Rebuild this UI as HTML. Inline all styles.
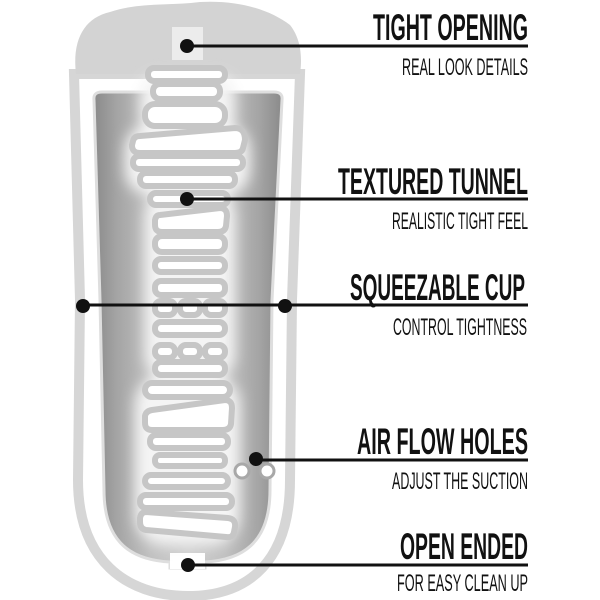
<!DOCTYPE html>
<html><head><style>html,body{margin:0;padding:0;background:#fff}svg{display:block}</style></head>
<body>
<svg width="600" height="600" viewBox="0 0 600 600" xmlns="http://www.w3.org/2000/svg">
<defs>
<linearGradient id="cav" x1="0" x2="1" y1="0" y2="0">
<stop offset="0" stop-color="#8a8a8a"/><stop offset="0.12" stop-color="#a4a4a4"/><stop offset="0.3" stop-color="#c0c0c0"/><stop offset="0.5" stop-color="#cfcfcf"/><stop offset="0.7" stop-color="#c0c0c0"/><stop offset="0.88" stop-color="#a4a4a4"/><stop offset="1" stop-color="#8a8a8a"/>
</linearGradient>
<filter id="bl" x="-50%" y="-20%" width="200%" height="140%"><feGaussianBlur stdDeviation="7"/></filter>
</defs>
<!-- outer shell -->
<path d="M74,74 L300,74 L292,300 L290,480 C290,560 250,596 188,596 C126,596 78,560 78,480 L80,300 Z" fill="#fff" stroke="#d6d6d6" stroke-width="10"/>
<!-- top cap -->
<path d="M76,74 C72,40 84,18 110,12 C140,2 170,6 200,2 C240,0 270,10 290,25 C302,40 302,60 300,74 Z" fill="#d3d3d3"/>
<rect x="172" y="27" width="31" height="33" fill="#ececec"/>
<!-- cavity -->
<path d="M94,100 Q93,92 102,92 L274,92 Q283,92 282,100 L272,300 L270,490 C270,545 240,560 205,562 L205,568 L170,568 L170,562 C134,560 104,545 104,490 L100,300 Z" fill="url(#cav)" stroke="#dedede" stroke-width="3"/>
<rect x="170" y="553" width="35" height="16" fill="#fff"/>
<g fill="#f4f4f4" filter="url(#bl)">
<rect x="140" y="75" width="95" height="60" rx="20"/>
<rect x="125" y="125" width="125" height="70" rx="25"/>
<rect x="145" y="190" width="90" height="190" rx="25"/>
<rect x="135" y="375" width="105" height="170" rx="30"/>
</g>
<!-- tunnel rings -->
<g fill="#fff" stroke="#c6c6c6" stroke-width="6">
<rect x="148" y="68" width="77" height="13" rx="6"/>
<rect x="153" y="84" width="67" height="15" rx="7"/>
<rect x="145" y="104" width="80" height="22" rx="10"/>
<path d="M140,136 L235,128 Q245,128 245,140 L243,148 Q242,153 235,153 L140,153 Q132,153 132,145 L133,141 Q134,136 140,136 Z"/>
<rect x="133" y="156" width="110" height="13" rx="6"/>
<rect x="140" y="173" width="95" height="13" rx="6"/>
<rect x="150" y="193" width="78" height="12" rx="6"/>
<path d="M160,215 L220,208 Q227,208 227,216 L226,226 Q225,232 218,232 L162,232 Q155,232 155,225 L155,220 Q156,215 160,215 Z"/>
<rect x="155" y="236" width="70" height="16" rx="7"/>
<rect x="155" y="259" width="70" height="13" rx="6"/>
<rect x="155" y="281" width="70" height="14" rx="6"/>
<rect x="155" y="301" width="20" height="14" rx="6"/><rect x="180" y="301" width="20" height="14" rx="6"/><rect x="205" y="301" width="20" height="14" rx="6"/>
<rect x="155" y="322" width="70" height="13" rx="6"/>
<rect x="155" y="345" width="20" height="13" rx="6"/><rect x="180" y="345" width="20" height="13" rx="6"/><rect x="205" y="345" width="20" height="13" rx="6"/>
<rect x="155" y="362" width="70" height="13" rx="6"/>
<rect x="145" y="383" width="85" height="14" rx="7"/>
<path d="M152,410 L225,400 Q232,400 232,408 L231,424 Q230,430 223,430 L152,430 Q145,430 145,423 L145,416 Q146,411 152,410 Z"/>
<rect x="150" y="435" width="78" height="13" rx="6"/>
<rect x="155" y="455" width="70" height="11" rx="5"/>
<rect x="145" y="475" width="83" height="12" rx="6"/>
<rect x="140" y="495" width="92" height="13" rx="6"/>
<path d="M146,512 L228,518 Q236,519 235,527 L234,532 Q233,538 226,537 L146,530 Q140,529 140,522 L140,518 Q141,512 146,512 Z"/>
</g>
<!-- air holes -->
<circle cx="242" cy="471" r="7" fill="#fff" stroke="#a8a8a8" stroke-width="3"/>
<circle cx="267" cy="471" r="7" fill="#fff" stroke="#a8a8a8" stroke-width="3"/>
<!-- leader lines -->
<g stroke="#111" stroke-width="3">
<line x1="187" y1="46" x2="528" y2="46"/>
<line x1="187" y1="199" x2="528" y2="199"/>
<line x1="82" y1="305" x2="528" y2="305"/>
<line x1="256" y1="460" x2="528" y2="460"/>
<line x1="188" y1="565" x2="528" y2="565"/>
</g>
<g fill="#111">
<circle cx="187" cy="46" r="7"/><circle cx="187" cy="199" r="7"/>
<circle cx="83" cy="306" r="7"/><circle cx="285" cy="306" r="7"/>
<circle cx="256" cy="459" r="7"/><circle cx="188" cy="565" r="7"/>
</g>
<g font-family="Liberation Sans, sans-serif" fill="#111">
<g font-weight="bold" font-size="37">
<text x="373" y="40" textLength="155" lengthAdjust="spacingAndGlyphs">TIGHT OPENING</text>
<text x="338" y="194" textLength="190" lengthAdjust="spacingAndGlyphs">TEXTURED TUNNEL</text>
<text x="350" y="300" textLength="175" lengthAdjust="spacingAndGlyphs">SQUEEZABLE CUP</text>
<text x="357" y="454" textLength="171" lengthAdjust="spacingAndGlyphs">AIR FLOW HOLES</text>
<text x="400" y="559" textLength="128" lengthAdjust="spacingAndGlyphs">OPEN ENDED</text>
</g>
<g font-size="24">
<text x="402" y="75" textLength="126" lengthAdjust="spacingAndGlyphs">REAL LOOK DETAILS</text>
<text x="392" y="229" textLength="136" lengthAdjust="spacingAndGlyphs">REALISTIC TIGHT FEEL</text>
<text x="393" y="335" textLength="134" lengthAdjust="spacingAndGlyphs">CONTROL TIGHTNESS</text>
<text x="392" y="489" textLength="136" lengthAdjust="spacingAndGlyphs">ADJUST THE SUCTION</text>
<text x="397" y="591" textLength="131" lengthAdjust="spacingAndGlyphs">FOR EASY CLEAN UP</text>
</g>
</g>
</svg>
</body></html>
